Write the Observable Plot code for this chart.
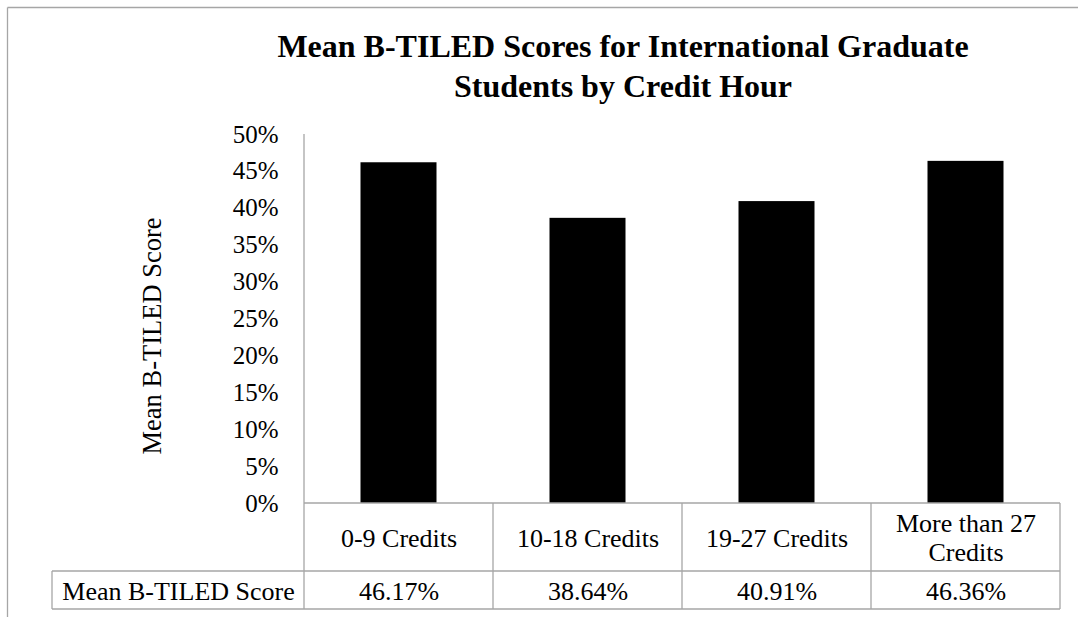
<!DOCTYPE html>
<html><head><meta charset="utf-8">
<script src="https://cdn.jsdelivr.net/npm/d3@7"></script>
<script src="https://cdn.jsdelivr.net/npm/@observablehq/plot@0.6"></script>
<style>html,body{margin:0;padding:0;background:#fff;overflow:hidden}</style>
</head><body><div id="chart"></div>
<script>
const categories = ["0-9 Credits", "10-18 Credits", "19-27 Credits", "More than 27\nCredits"];
const scores = [46.17, 38.64, 40.91, 46.36];
const tableValues = ["46.17%", "38.64%", "40.91%", "46.36%"];
const yTicks = [0, 5, 10, 15, 20, 25, 30, 35, 40, 45, 50];
const seriesName = "Mean B-TILED Score";
const titleText = "Mean B-TILED Scores for International Graduate\nStudents by Credit Hour";

const data = categories.map((c, i) => ({cat: c, score: scores[i], label: tableValues[i]}));
const gridColor = "#a6a6a6";
const serif = "'Liberation Serif', 'Times New Roman', serif";

function grid(index, scales, values, dims) {
  const x = scales.x;
  const left = dims.marginLeft, right = dims.width - dims.marginRight;
  const top = dims.marginTop, base = dims.height - dims.marginBottom;
  const rowLine = base + 68, bottom = base + 106;
  const g = d3.create("svg:g").attr("stroke", gridColor).attr("fill", "none").attr("stroke-width", 1.3);
  const line = (x1, y1, x2, y2) => g.append("line").attr("x1", x1).attr("y1", y1).attr("x2", x2).attr("y2", y2);
  // outer chart-area border
  line(7.5, 7.5, dims.width, 7.5);
  line(7.5, 7.5, 7.5, dims.height);
  // value axis line
  line(left, top, left, base);
  // data table
  line(left, base, right, base);
  line(52, rowLine, right, rowLine);
  line(52, bottom, right, bottom);
  line(52, rowLine, 52, bottom);
  for (const c of x.domain()) line(x(c), base, x(c), bottom);
  line(right, base, right, bottom);
  return g.node();
}

const chart = Plot.plot({
  width: 1078,
  height: 617,
  marginLeft: 304,
  marginRight: 18,
  marginTop: 134,
  marginBottom: 114,
  style: {fontFamily: serif, fontSize: "26px", color: "#000", background: "#fff"},
  x: {domain: categories, padding: 0, axis: null},
  y: {domain: [0, 50], axis: null},
  marks: [
    Plot.barY(data, {x: "cat", y: "score", fill: "#000", insetLeft: 56.5, insetRight: 56.5}),
    Plot.axisY({ticks: yTicks, tickFormat: d => d + "%", tickSize: 0, tickPadding: 26, label: null, fontSize: 25, fill: "#000"}),
    grid,
    Plot.text(data, {x: "cat", text: "cat", frameAnchor: "bottom", dy: 34, lineAnchor: "middle", lineHeight: 1.12, fontSize: 26, fill: "#000"}),
    Plot.text(data, {x: "cat", text: "label", frameAnchor: "bottom", dy: 88, lineAnchor: "middle", fontSize: 26, fill: "#000"}),
    Plot.text([seriesName], {frameAnchor: "bottom-left", dx: -126, dy: 88, textAnchor: "middle", lineAnchor: "middle", fontSize: 26, fill: "#000"}),
    Plot.text([seriesName], {frameAnchor: "left", dx: -152, dy: 17, rotate: -90, textAnchor: "middle", lineAnchor: "middle", fontSize: 26.5, fill: "#000"}),
    Plot.text([titleText], {frameAnchor: "top", dx: -59.5, dy: -70, lineAnchor: "middle", lineHeight: 1.22, fontSize: 32, fontWeight: "bold", fill: "#000"})
  ]
});
document.getElementById("chart").append(chart);
</script>
</body></html>
